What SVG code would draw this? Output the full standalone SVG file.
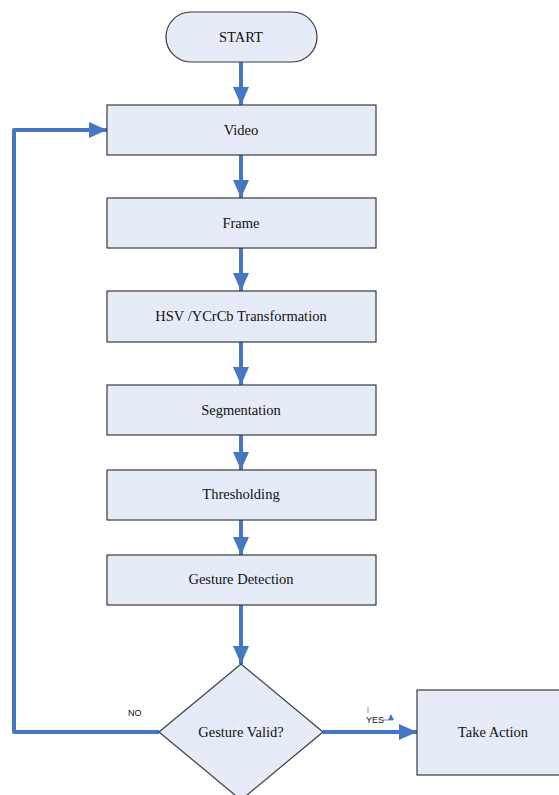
<svg xmlns="http://www.w3.org/2000/svg" width="559" height="795" viewBox="0 0 559 795">
<defs>
<style>
.box{fill:#e6ecf7;stroke:#3a3a3a;stroke-width:1.2}
.lbl{font-family:"Liberation Serif",serif;font-size:14.5px;fill:#111;text-anchor:middle}
.sm{font-family:"Liberation Sans",sans-serif;font-size:9px;fill:#111}
.con{stroke:#4677c4;stroke-width:4;fill:none}
.ah{fill:#4677c4}
</style>
<marker id="arr" markerUnits="userSpaceOnUse" markerWidth="20" markerHeight="16" refX="18" refY="8" orient="auto">
<path d="M0,0 L18,8 L0,16 Z" class="ah"/>
</marker>
</defs>
<rect width="559" height="795" fill="#fff"/>
<g id="connectors">
<line class="con" x1="241" y1="62" x2="241" y2="105" marker-end="url(#arr)"/>
<line class="con" x1="241" y1="155" x2="241" y2="198" marker-end="url(#arr)"/>
<line class="con" x1="241" y1="248" x2="241" y2="291" marker-end="url(#arr)"/>
<line class="con" x1="241" y1="342" x2="241" y2="385" marker-end="url(#arr)"/>
<line class="con" x1="241" y1="435" x2="241" y2="470" marker-end="url(#arr)"/>
<line class="con" x1="241" y1="520" x2="241" y2="555" marker-end="url(#arr)"/>
<line class="con" x1="241" y1="605" x2="241" y2="664" marker-end="url(#arr)"/>
<polyline class="con" points="159,732 14,732 14,130 107,130" stroke-linejoin="round" marker-end="url(#arr)"/>
<line class="con" x1="323" y1="732" x2="417" y2="732" marker-end="url(#arr)"/>
<text class="sm" x="128" y="716">NO</text>
<text class="sm" x="366" y="723">YES</text>
<line x1="368" y1="707" x2="368" y2="713" stroke="#4677c4" stroke-width="0.8"/>
<line x1="383" y1="720" x2="393" y2="720" stroke="#4677c4" stroke-width="0.8"/>
<path d="M388,720 L391,714 L394,720 Z" class="ah"/>
</g>
<g id="start"><rect class="box" x="166" y="12" width="151" height="50" rx="25"/><text class="lbl" x="241" y="42">START</text></g>
<g id="video"><rect class="box" x="107" y="105" width="269" height="50"/><text class="lbl" x="241" y="135">Video</text></g>
<g id="frame"><rect class="box" x="107" y="198" width="269" height="50"/><text class="lbl" x="241" y="228">Frame</text></g>
<g id="hsv"><rect class="box" x="107" y="291" width="269" height="51"/><text class="lbl" x="241" y="321">HSV /YCrCb Transformation</text></g>
<g id="segmentation"><rect class="box" x="107" y="385" width="269" height="50"/><text class="lbl" x="241" y="415">Segmentation</text></g>
<g id="thresholding"><rect class="box" x="107" y="470" width="269" height="50"/><text class="lbl" x="241" y="499">Thresholding</text></g>
<g id="detection"><rect class="box" x="107" y="555" width="269" height="50"/><text class="lbl" x="241" y="584">Gesture Detection</text></g>
<g id="decision"><polygon class="box" points="241,664 323,732 241,800 159,732"/><text class="lbl" x="241" y="737">Gesture Valid?</text></g>
<g id="action"><rect class="box" x="417" y="690" width="150" height="85"/><text class="lbl" x="493" y="737">Take Action</text></g>
</svg>
